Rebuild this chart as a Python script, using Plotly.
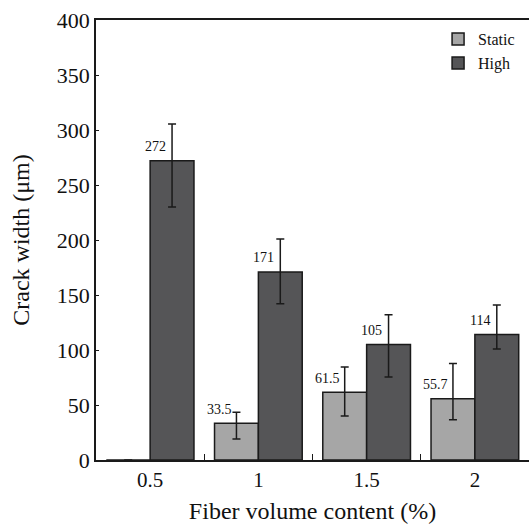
import plotly.graph_objects as go

categories = ["0.5", "1", "1.5", "2"]
static_vals = [0, 33.5, 61.5, 55.7]
high_vals = [272, 171, 105, 114]
static_err_plus = [0, 10, 23, 32]
static_err_minus = [0, 14.5, 21.5, 19]
high_err_plus = [33.5, 30, 27, 27]
high_err_minus = [42, 29, 29.5, 13]
static_labels = ["", "33.5", "61.5", "55.7"]
high_labels = ["272", "171", "105", "114"]

FONT = "Liberation Serif, Times New Roman, serif"
LINE = "#1a1a1a"

fig = go.Figure()
fig.add_trace(go.Bar(
    name="Static", x=categories, y=static_vals,
    marker=dict(color="#a6a6a6", line=dict(color=LINE, width=1.5)),
    error_y=dict(type="data", symmetric=False, array=static_err_plus,
                 arrayminus=static_err_minus, color=LINE, thickness=1.5, width=4),
))
fig.add_trace(go.Bar(
    name="High", x=categories, y=high_vals,
    marker=dict(color="#555557", line=dict(color=LINE, width=1.5)),
    error_y=dict(type="data", symmetric=False, array=high_err_plus,
                 arrayminus=high_err_minus, color=LINE, thickness=1.5, width=4),
))

annotations = []
for i, (v, t) in enumerate(zip(static_vals, static_labels)):
    if t:
        annotations.append(dict(x=i, y=v, text=t, xref="x", yref="y", showarrow=False,
                                xshift=-39, yshift=14, font=dict(family=FONT, size=14, color="#111")))
for i, (v, t) in enumerate(zip(high_vals, high_labels)):
    annotations.append(dict(x=i, y=v, text=t, xref="x", yref="y", showarrow=False,
                            xshift=5, yshift=14, font=dict(family=FONT, size=14, color="#111")))

fig.update_layout(
    width=529, height=525,
    margin=dict(l=96, r=0, t=20, b=65),
    paper_bgcolor="white", plot_bgcolor="white",
    barmode="group", bargap=0.19, bargroupgap=0,
    font=dict(family=FONT, color="#111"),
    showlegend=True,
    legend=dict(x=0.79, y=0.995, xanchor="left", yanchor="top",
                font=dict(family=FONT, size=16), bgcolor="rgba(0,0,0,0)",
                tracegroupgap=0),
    annotations=annotations,
    xaxis=dict(
        type="category", tickson="boundaries", ticks="inside", ticklen=6,
        tickwidth=1.2, tickcolor=LINE,
        showline=True, linecolor=LINE, linewidth=1.5, mirror=True,
        showgrid=False, zeroline=False,
        tickfont=dict(family=FONT, size=21),
        title=dict(text="Fiber volume content (%)", font=dict(family=FONT, size=24), standoff=11),
    ),
    yaxis=dict(
        range=[0, 400], dtick=50, ticks="inside", ticklen=3, tickcolor=LINE,
        showline=True, linecolor=LINE, linewidth=1.5,
        showgrid=False, zeroline=False,
        tickfont=dict(family=FONT, size=22),
        title=dict(text="Crack width (μm)", font=dict(family=FONT, size=24), standoff=20),
    ),
)

fig.write_html("out.html")
